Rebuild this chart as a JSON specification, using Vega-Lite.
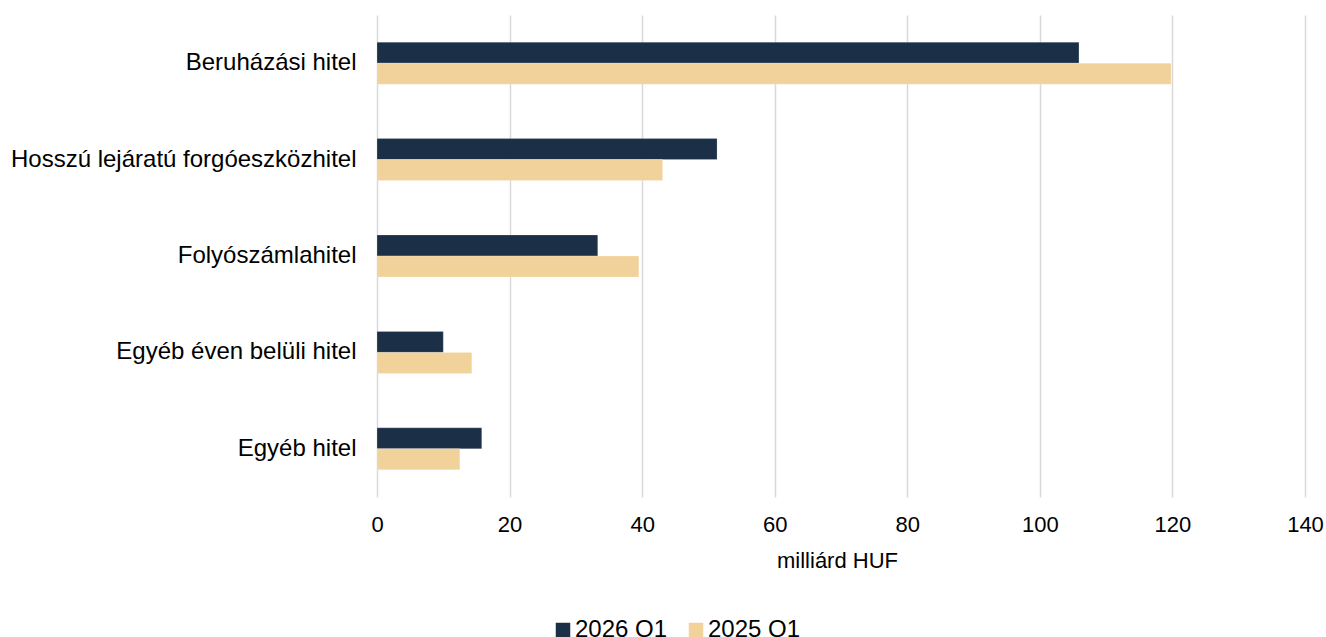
{
  "$schema": "https://vega.github.io/schema/vega-lite/v6.json",
  "width": 928,
  "height": 482,
  "autosize": {"type": "none"},
  "padding": {"left": 377, "top": 15, "right": 21, "bottom": 140},
  "background": "white",
  "config": {
    "font": "Liberation Sans",
    "view": {"stroke": null}
  },
  "data": {
    "values": [
      {"cat": "Beruházási hitel", "series": "2026 Q1", "value": 105.9},
      {"cat": "Beruházási hitel", "series": "2025 Q1", "value": 119.8},
      {"cat": "Hosszú lejáratú forgóeszközhitel", "series": "2026 Q1", "value": 51.3},
      {"cat": "Hosszú lejáratú forgóeszközhitel", "series": "2025 Q1", "value": 43.1},
      {"cat": "Folyószámlahitel", "series": "2026 Q1", "value": 33.3},
      {"cat": "Folyószámlahitel", "series": "2025 Q1", "value": 39.5},
      {"cat": "Egyéb éven belüli hitel", "series": "2026 Q1", "value": 10.0},
      {"cat": "Egyéb éven belüli hitel", "series": "2025 Q1", "value": 14.3},
      {"cat": "Egyéb hitel", "series": "2026 Q1", "value": 15.8},
      {"cat": "Egyéb hitel", "series": "2025 Q1", "value": 12.5}
    ]
  },
  "mark": {"type": "bar", "stroke": "#ffffff", "strokeWidth": 0.5, "strokeOpacity": 0.4},
  "encoding": {
    "y": {
      "field": "cat",
      "type": "nominal",
      "sort": ["Beruházási hitel", "Hosszú lejáratú forgóeszközhitel", "Folyószámlahitel", "Egyéb éven belüli hitel", "Egyéb hitel"],
      "scale": {"paddingInner": 0.564, "paddingOuter": 0.282},
      "axis": {
        "title": null,
        "domain": false,
        "ticks": false,
        "labelFontSize": 24,
        "labelColor": "#000000",
        "labelPadding": 21,
        "labelLimit": 400
      }
    },
    "yOffset": {
      "field": "series",
      "type": "nominal",
      "sort": ["2026 Q1", "2025 Q1"],
      "scale": {"paddingInner": 0, "paddingOuter": 0}
    },
    "x": {
      "field": "value",
      "type": "quantitative",
      "scale": {"domain": [0, 140], "nice": false},
      "axis": {
        "title": "milliárd HUF",
        "values": [0, 20, 40, 60, 80, 100, 120, 140],
        "domain": false,
        "ticks": false,
        "grid": true,
        "gridColor": "#d9d9d9",
        "gridWidth": 1.5,
        "labelFlush": false,
        "labelBound": false,
        "labelOverlap": false,
        "labelFontSize": 22,
        "labelColor": "#000000",
        "labelPadding": 17,
        "titleFontSize": 22,
        "titleFontWeight": "normal",
        "titleColor": "#000000",
        "titlePadding": 15,
        "titleX": 460
      }
    },
    "color": {
      "field": "series",
      "type": "nominal",
      "sort": ["2026 Q1", "2025 Q1"],
      "scale": {"domain": ["2026 Q1", "2025 Q1"], "range": ["#1b3047", "#f2d29b"]},
      "legend": {
        "title": null,
        "orient": "none",
        "direction": "horizontal",
        "legendX": 174,
        "legendY": 603,
        "symbolType": "square",
        "symbolSize": 210,
        "symbolStrokeWidth": 0,
        "labelFontSize": 24,
        "labelColor": "#000000",
        "labelOffset": 0,
        "columnPadding": 16
      }
    }
  }
}
